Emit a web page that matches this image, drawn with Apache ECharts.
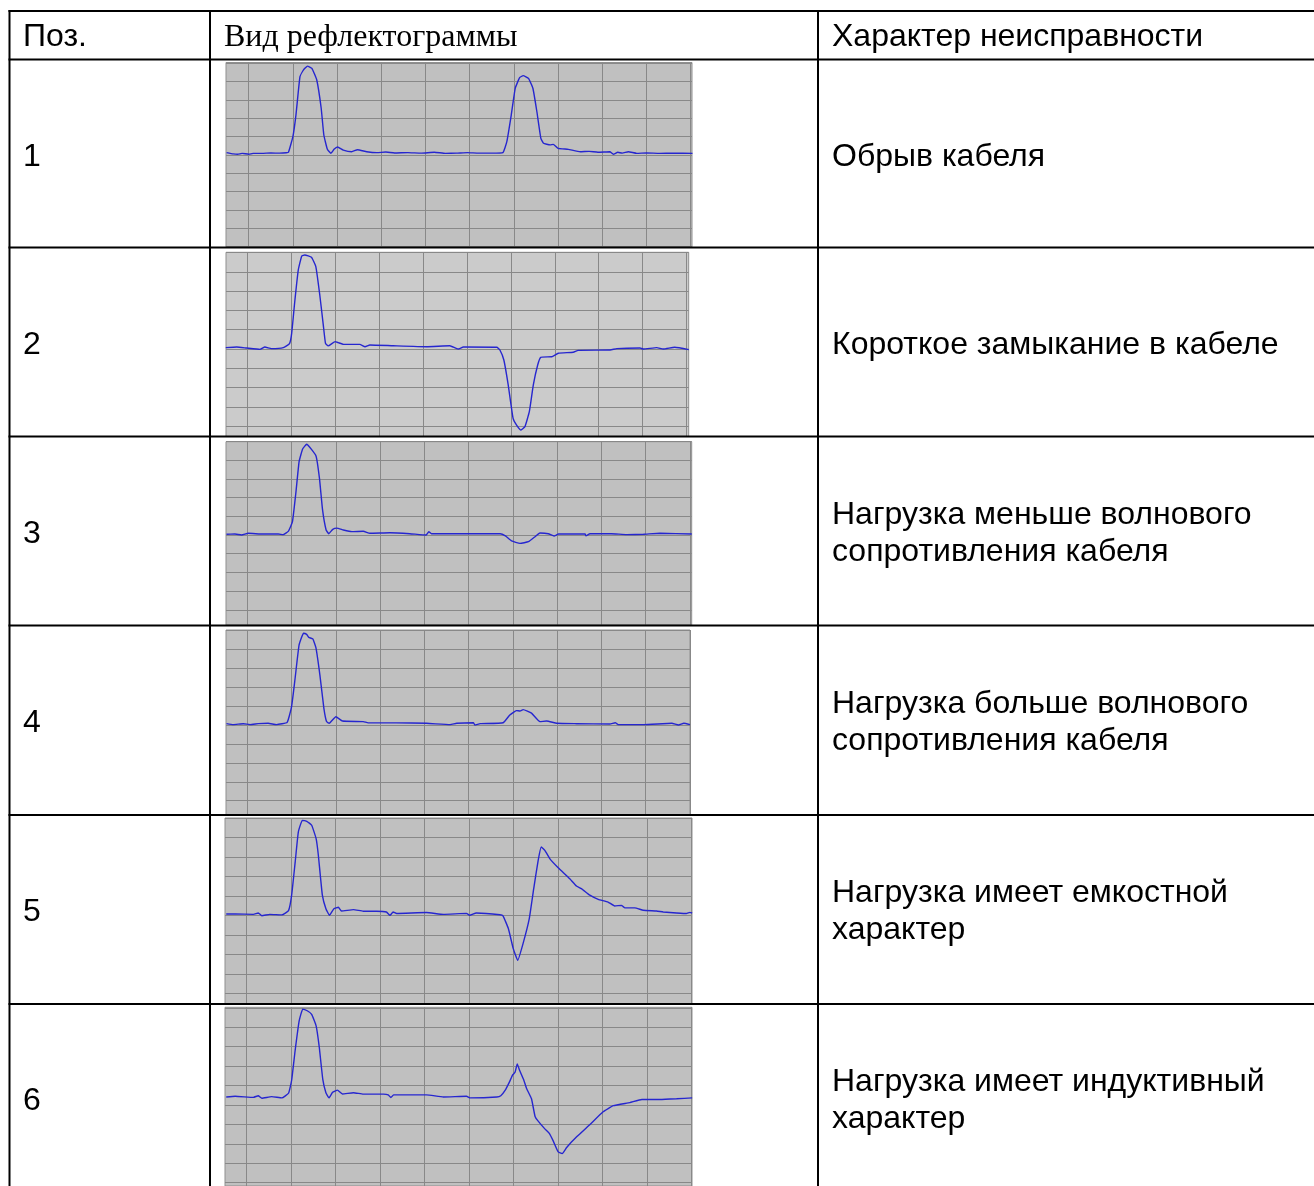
<!DOCTYPE html>
<html>
<head>
<meta charset="utf-8">
<script src="https://cdn.jsdelivr.net/npm/echarts@6/dist/echarts.min.js"></script>
<style>
  html, body { margin: 0; padding: 0; background: #fff; }
  #main { width: 1314px; height: 1186px; }
</style>
</head>
<body>
<div id="main"></div>
<script>
// заголовки и подписи таблицы
const headers = ['Поз.', 'Вид рефлектограммы', 'Характер неисправности'];
const positions = ['1', '2', '3', '4', '5', '6'];
const faults = [
  'Обрыв кабеля',
  'Короткое замыкание в кабеле',
  'Нагрузка меньше волнового\nсопротивления кабеля',
  'Нагрузка больше волнового\nсопротивления кабеля',
  'Нагрузка имеет емкостной\nхарактер',
  'Нагрузка имеет индуктивный\nхарактер'
];

// рефлектограммы: [клетка по горизонтали, клетка по вертикали]
const trace1 = [
  [-0.5,0.13],[-0.35,0.06],[-0.25,0.04],[-0.15,0.09],[0,0.04],[0.1,0.09],[0.3,0.09],[0.5,0.11],[0.7,0.1],[0.85,0.12],
  [0.9,0.15],[1.0,1.0],[1.07,2.2],[1.16,4.27],[1.24,4.64],[1.33,4.85],[1.43,4.73],[1.54,4.09],[1.64,2.55],[1.70,1.09],
  [1.78,0.31],[1.86,0.09],[1.93,0.31],[2.01,0.44],[2.14,0.27],[2.33,0.18],[2.46,0.29],[2.67,0.18],[2.9,0.13],[3.1,0.16],
  [3.3,0.11],[3.6,0.13],[3.9,0.1],[4.2,0.15],[4.45,0.09],[4.7,0.1],[4.95,0.13],[5.2,0.1],[5.5,0.1],[5.75,0.13],
  [5.84,0.73],[5.94,2.18],[6.03,3.64],[6.13,4.22],[6.21,4.33],[6.33,4.18],[6.43,3.64],[6.52,2.36],[6.61,0.91],[6.67,0.64],
  [6.82,0.55],[6.89,0.58],[7.0,0.36],[7.23,0.31],[7.5,0.18],[7.7,0.2],[7.9,0.15],[8.17,0.18],[8.25,0.04],[8.35,0.15],
  [8.45,0.1],[8.59,0.18],[8.78,0.09],[9.0,0.11],[9.3,0.09],[9.6,0.1],[10.04,0.09]
];
const trace2 = [
  [-0.49,0.07],[-0.24,0.1],[-0.02,0.05],[0.29,-0.02],[0.4,0.1],[0.55,0.02],[0.82,0.07],[0.96,0.28],[1.01,0.81],[1.08,2.45],
  [1.16,4.09],[1.24,4.82],[1.31,4.87],[1.46,4.75],[1.56,4.27],[1.65,2.8],[1.73,1.24],[1.78,0.29],[1.84,0.16],[2.0,0.38],
  [2.07,0.33],[2.19,0.24],[2.56,0.24],[2.68,0.12],[2.79,0.21],[3.32,0.17],[4.08,0.12],[4.61,0.17],[4.8,0],[4.92,0.1],
  [5.68,0.09],[5.75,-0.05],[5.84,-0.57],[5.94,-1.87],[6.05,-3.59],[6.13,-3.94],[6.23,-4.2],[6.32,-4.02],[6.42,-3.25],[6.51,-1.87],
  [6.61,-0.83],[6.68,-0.43],[6.93,-0.4],[7.08,-0.22],[7.42,-0.17],[7.53,-0.07],[8.26,-0.05],[8.41,0.02],[8.94,0.05],[9.01,0],
  [9.32,0.07],[9.47,0],[9.73,0.09],[10.05,-0.03]
];
const trace3 = [
  [-0.47,0.04],[-0.28,0.05],[-0.13,0],[0.02,0.09],[0.36,0.05],[0.7,0.05],[0.81,0.02],[0.93,0.21],[1.02,0.71],[1.1,2.32],
  [1.17,3.92],[1.25,4.6],[1.34,4.85],[1.55,4.24],[1.63,3.03],[1.7,1.34],[1.78,0.27],[1.84,0.07],[1.93,0.3],[2.02,0.37],
  [2.17,0.27],[2.36,0.18],[2.62,0.2],[2.77,0.09],[3.22,0.12],[3.67,0.07],[4.04,0],[4.1,0.18],[4.16,0.07],[5.71,0.07],
  [5.83,-0.05],[5.97,-0.32],[6.16,-0.45],[6.35,-0.36],[6.5,-0.09],[6.61,0.11],[6.8,0.07],[6.93,-0.05],[7.03,0.05],[7.63,0.05],
  [7.65,-0.04],[7.74,0.07],[8.22,0.07],[8.57,0.02],[8.95,0.04],[9.32,0.09],[10.04,0.05]
];
const trace4 = [
  [-0.47,0.07],[-0.32,0.02],[-0.09,0.07],[0.06,0.02],[0.25,0.07],[0.47,0.09],[0.66,0.02],[0.9,0.14],[1.0,0.97],[1.08,2.47],
  [1.17,4.23],[1.27,4.85],[1.34,4.79],[1.39,4.63],[1.48,4.55],[1.55,4.09],[1.64,2.64],[1.73,0.88],[1.79,0.18],[1.85,0.09],
  [2.0,0.44],[2.15,0.21],[2.62,0.18],[2.73,0.11],[3.37,0.11],[4.05,0.09],[4.58,0.02],[4.73,0.09],[5.11,0.12],[5.14,0],
  [5.26,0.07],[5.78,0.12],[5.93,0.53],[6.08,0.76],[6.16,0.74],[6.23,0.81],[6.42,0.63],[6.61,0.18],[6.76,0.21],[6.99,0.09],
  [7.44,0.07],[8.19,0.05],[8.31,0.12],[8.38,0.02],[8.95,0.02],[9.59,0.09],[9.74,0],[9.86,0.09],[10.0,0.02]
];
const trace5 = [
  [-0.46,0.07],[-0.26,0.07],[0.15,0.05],[0.26,0.12],[0.34,-0.02],[0.52,0.05],[0.79,0.02],[0.94,0.24],[1.01,1.03],[1.09,2.74],
  [1.16,4.27],[1.25,4.87],[1.35,4.82],[1.46,4.62],[1.56,3.93],[1.61,3.08],[1.7,1.03],[1.78,0.34],[1.86,0],[1.96,0.34],
  [2.06,0.41],[2.13,0.22],[2.4,0.29],[2.62,0.21],[2.92,0.21],[3.14,0.17],[3.22,0],[3.29,0.17],[3.37,0.09],[4.04,0.14],
  [4.42,0.05],[4.94,0.1],[5.01,0],[5.16,0.12],[5.69,0.03],[5.76,-0.03],[5.88,-0.68],[5.99,-1.71],[6.09,-2.31],[6.21,-1.45],
  [6.35,-0.17],[6.45,1.37],[6.55,2.82],[6.62,3.5],[6.7,3.33],[6.81,2.91],[7.0,2.44],[7.26,1.88],[7.41,1.5],[7.52,1.37],
  [7.71,1.03],[7.9,0.82],[8.12,0.68],[8.27,0.48],[8.42,0.51],[8.5,0.38],[8.72,0.38],[8.91,0.26],[9.21,0.22],[9.36,0.17],
  [9.66,0.12],[9.88,0.09],[9.96,0.15],[10.01,0.12]
];
const trace6 = [
  [-0.46,0.05],[-0.26,0.09],[0.15,0.03],[0.26,0.12],[0.34,-0.02],[0.56,0.07],[0.79,0],[0.94,0.26],[1.01,0.98],[1.09,2.66],
  [1.18,4.29],[1.26,4.93],[1.36,4.84],[1.46,4.64],[1.56,4.0],[1.63,2.83],[1.71,1.03],[1.78,0.29],[1.85,0],[1.93,0.31],
  [2.04,0.43],[2.15,0.22],[2.4,0.29],[2.62,0.21],[3.07,0.21],[3.18,0.17],[3.24,0.02],[3.3,0.17],[4.04,0.17],[4.42,0.05],
  [4.94,0.09],[5.02,0],[5.62,0.05],[5.71,0.12],[5.81,0.43],[5.9,0.86],[5.98,1.29],[6.03,1.42],[6.08,1.89],[6.13,1.55],
  [6.22,1.03],[6.29,0.52],[6.4,-0.05],[6.48,-1.03],[6.55,-1.29],[6.7,-1.72],[6.8,-1.97],[6.89,-2.4],[7.0,-3.0],[7.09,-3.09],
  [7.19,-2.75],[7.42,-2.15],[7.72,-1.46],[8.01,-0.77],[8.24,-0.43],[8.61,-0.26],[8.88,-0.09],[9.29,-0.09],[9.66,-0.05],[10.01,0]
];
const traces = [trace1, trace2, trace3, trace4, trace5, trace6];

// окна осциллографа (пиксели): края, нуль и шаг клетки
const panels = [
  { L: 226, R: 692,   T: 62.5,   B: 247,   x0: 248.7, sx: 44.2,  y0: 155,   sy: 18.33, bg: '#c0c0c0' },
  { L: 226, R: 688.7, T: 252.3,  B: 436.5, x0: 247.3, sx: 43.93, y0: 349,   sy: 19.3,  bg: '#cbcbcb' },
  { L: 226, R: 691.7, T: 441.7,  B: 625,   x0: 247.3, sx: 44.27, y0: 535,   sy: 18.7,  bg: '#c0c0c0' },
  { L: 226, R: 690,   T: 630,    B: 815,   x0: 247.3, sx: 44.27, y0: 725,   sy: 18.92, bg: '#c0c0c0' },
  { L: 225, R: 692,   T: 818,    B: 1004,  x0: 246.7, sx: 44.5,  y0: 915.3, sy: 19.5,  bg: '#c0c0c0' },
  { L: 225, R: 692,   T: 1007.3, B: 1200,  x0: 246.7, sx: 44.5,  y0: 1105,  sy: 19.42, bg: '#c0c0c0' }
];

const rowLines = [11, 59.5, 247.5, 436.5, 625.5, 815, 1004];
const colLines = [9.5, 210, 818];
const rowMid = [157, 345, 534, 723, 912, 1101];

var chartDom = document.getElementById('main');
var myChart = echarts.init(chartDom);

var grids = [], xAxes = [], yAxes = [], series = [];

var splitAxis = {
  axisLine: { show: false }, axisTick: { show: false }, axisLabel: { show: false },
  splitLine: { show: true, lineStyle: { color: '#888888', width: 1 } }, z: 1
};

panels.forEach(function (p, i) {
  var xmin = (p.L - p.x0) / p.sx, xmax = (p.R - p.x0) / p.sx;
  var ymin = (p.y0 - p.B) / p.sy, ymax = (p.y0 - p.T) / p.sy;
  var xi0 = Math.ceil(xmin - 0.06), xi1 = Math.floor(xmax + 0.06);
  var yi0 = Math.ceil(ymin - 0.06), yi1 = Math.floor(ymax + 0.06);
  var g = 3 * i;

  // фон окна и кривая
  grids.push({
    left: p.L, top: p.T, width: p.R - p.L, height: p.B - p.T,
    show: true, backgroundColor: p.bg, borderColor: '#8f8f8f', borderWidth: 1, z: 0
  });
  xAxes.push({ type: 'value', gridIndex: g, min: xmin, max: xmax, show: false });
  yAxes.push({ type: 'value', gridIndex: g, min: ymin, max: ymax, show: false });

  // вертикальные линии клеток (на всю высоту окна)
  grids.push({ left: p.x0 + xi0 * p.sx, top: p.T, width: (xi1 - xi0) * p.sx, height: p.B - p.T, show: false });
  xAxes.push(Object.assign({ type: 'value', gridIndex: g + 1, min: xi0, max: xi1, interval: 1 }, splitAxis));
  yAxes.push({ type: 'value', gridIndex: g + 1, min: 0, max: 1, show: false });

  // горизонтальные линии клеток (на всю ширину окна)
  grids.push({ left: p.L, top: p.y0 - yi1 * p.sy, width: p.R - p.L, height: (yi1 - yi0) * p.sy, show: false });
  xAxes.push({ type: 'value', gridIndex: g + 2, min: 0, max: 1, show: false });
  yAxes.push(Object.assign({ type: 'value', gridIndex: g + 2, min: yi0, max: yi1, interval: 1 }, splitAxis));

  series.push({
    type: 'line', xAxisIndex: g, yAxisIndex: g,
    data: traces[i], showSymbol: false, smooth: 0.12, silent: true, z: 5,
    lineStyle: { color: '#2626cf', width: 1.4 }
  });
});

// таблица
var graphics = [];
rowLines.forEach(function (y) {
  graphics.push({ type: 'line', shape: { x1: 8.5, y1: y, x2: 1314, y2: y }, style: { stroke: '#000', lineWidth: 2 }, z: 10 });
});
colLines.forEach(function (x) {
  graphics.push({ type: 'line', shape: { x1: x, y1: 10, x2: x, y2: 1186 }, style: { stroke: '#000', lineWidth: 2 }, z: 10 });
});

var sans = '32px "Liberation Sans", Arial, sans-serif';
var serif = '32px "Liberation Serif", "Times New Roman", serif';
function label(text, x, y, font) {
  graphics.push({
    type: 'text', x: x, y: y, z: 11,
    style: { text: text, font: font, fill: '#000', textVerticalAlign: 'middle', lineHeight: 37 }
  });
}
label(headers[0], 23, 37, sans);
label(headers[1], 224, 38, serif);
label(headers[2], 832, 37, sans);

positions.forEach(function (t, i) {
  label(t, 23, rowMid[i], sans);
  label(faults[i], 832, rowMid[i], sans);
});

var option = {
  backgroundColor: '#ffffff',
  animation: false,
  grid: grids,
  xAxis: xAxes,
  yAxis: yAxes,
  series: series,
  graphic: graphics
};

option && myChart.setOption(option);
</script>
</body>
</html>
